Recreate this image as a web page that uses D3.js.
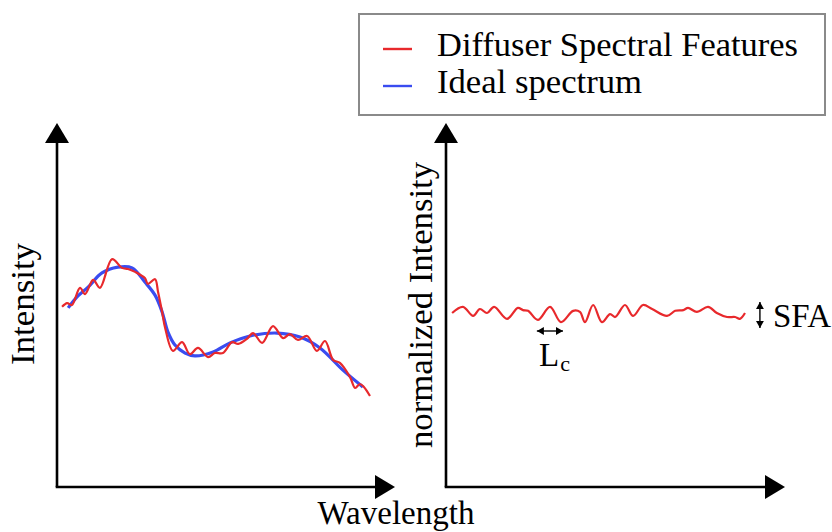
<!DOCTYPE html>
<html>
<head>
<meta charset="utf-8">
<script src="https://cdn.jsdelivr.net/npm/d3@7"></script>
</head>
<body style="margin:0; background:#fff">
<svg width="832" height="532" font-family="Liberation Serif, Times New Roman, serif"></svg>
<script>
// wavelength / intensity in arbitrary units (0..100 along each axis)
const spectrumX = [1.5, 3.0, 4.4, 6.8, 8.3, 10.7, 12.7, 16.3, 19.2, 21.0, 23.1, 26.0, 26.9, 29.0, 29.9, 31.1, 32.0, 34.3, 37.0, 39.3, 41.7, 44.7, 46.7, 49.1, 51.8, 53.6, 56.2, 58.0, 60.7, 63.9, 66.9, 68.9, 71.3, 74.0, 76.9, 79.3, 81.7, 83.7, 86.7, 88.2, 89.6, 90.8, 92.6];
const spectrumY = [49.5, 50.5, 50.0, 54.7, 53.0, 56.9, 54.7, 62.6, 60.2, 59.9, 59.1, 57.4, 55.8, 57.1, 53.6, 48.1, 43.7, 37.4, 39.8, 36.5, 38.2, 35.7, 36.8, 36.8, 39.8, 39.3, 40.7, 42.3, 39.6, 44.2, 40.9, 42.0, 40.4, 41.5, 37.4, 40.1, 34.9, 34.1, 30.2, 27.2, 28.3, 27.5, 25.0];

const idealX = [3.3, 6.2, 9.2, 13.3, 18.0, 22.2, 26.0, 29.0, 31.1, 32.8, 34.9, 37.9, 40.8, 46.2, 51.2, 57.1, 65.1, 71.9, 77.8, 84.6, 90.5];
const idealY = [49.2, 52.5, 54.9, 58.8, 60.4, 60.2, 56.3, 52.7, 48.1, 42.6, 39.0, 36.8, 36.0, 37.1, 39.6, 41.5, 42.3, 41.2, 38.2, 32.1, 27.5];

const normX = [1.8, 5.0, 8.0, 10.0, 12.1, 14.2, 18.0, 21.2, 22.7, 24.2, 27.1, 30.7, 33.9, 37.5, 39.5, 41.0, 43.4, 46.0, 48.4, 49.9, 52.8, 55.2, 58.1, 60.8, 65.2, 67.6, 70.0, 71.4, 74.0, 77.3, 79.9, 82.9, 85.3, 86.7, 88.2];
const normY = [47.8, 49.5, 47.0, 48.9, 47.8, 49.5, 46.2, 49.2, 48.6, 48.4, 45.9, 49.5, 45.3, 48.4, 48.1, 45.3, 50.0, 45.3, 47.5, 46.7, 50.0, 47.0, 50.0, 48.9, 47.0, 48.4, 48.6, 49.2, 48.1, 49.5, 47.8, 46.7, 46.7, 46.2, 47.8];

const legendLabels = ['Diffuser Spectral Features', 'Ideal spectrum'];
const colors = ['#e8292c', '#3a4cf0'];

const lcSpan = [26.8, 34.5];   // correlation length marker (right panel x units)
const sfaSpan = [43.7, 50.8];  // amplitude marker (y units)
const sfaX = 92.6;

const FONT = 'Liberation Serif';
const svg = d3.select('svg');

const y = d3.scaleLinear().domain([0, 100]).range([487, 123]);
const xLeft = d3.scaleLinear().domain([0, 100]).range([57, 395]);
const xRight = d3.scaleLinear().domain([0, 100]).range([446, 785]);

function label(sel) {
    return sel.append('text').attr('font-family', FONT).attr('fill', '#000').attr('font-size', '33px');
}

const defs = svg.append('defs');
defs.append('marker')
    .attr('id', 'bigArrow')
    .attr('viewBox', '0 0 20 24')
    .attr('refX', 0).attr('refY', 12)
    .attr('markerWidth', 20).attr('markerHeight', 24)
    .attr('markerUnits', 'userSpaceOnUse')
    .attr('orient', 'auto')
    .append('path').attr('d', 'M0,0 L20,12 L0,24 Z').attr('fill', '#000');
defs.append('marker')
    .attr('id', 'smallArrow')
    .attr('viewBox', '0 0 7 8')
    .attr('refX', 7).attr('refY', 4)
    .attr('markerWidth', 7).attr('markerHeight', 8)
    .attr('markerUnits', 'userSpaceOnUse')
    .attr('orient', 'auto-start-reverse')
    .append('path').attr('d', 'M0,0 L7,4 L0,8 Z').attr('fill', '#000');

// axes with arrow heads
function drawAxes(x) {
    const x0 = x(0), y0 = y(0);
    svg.append('line')
        .attr('x1', x0).attr('y1', y0)
        .attr('x2', x0).attr('y2', y(100) + 20)
        .attr('stroke', '#000').attr('stroke-width', 2.6)
        .attr('marker-end', 'url(#bigArrow)');
    svg.append('line')
        .attr('x1', x0 - 1.3).attr('y1', y0)
        .attr('x2', x(100) - 20).attr('y2', y0)
        .attr('stroke', '#000').attr('stroke-width', 2.6)
        .attr('marker-end', 'url(#bigArrow)');
}
drawAxes(xLeft);
drawAxes(xRight);

const lineLeft = d3.line().x(d => xLeft(d[0])).y(d => y(d[1])).curve(d3.curveCatmullRom.alpha(0.5));
const lineRight = d3.line().x(d => xRight(d[0])).y(d => y(d[1])).curve(d3.curveCatmullRom.alpha(0.5));

svg.append('path')
    .datum(idealX.map((v, i) => [v, idealY[i]]))
    .attr('d', lineLeft)
    .attr('fill', 'none')
    .attr('stroke', colors[1])
    .attr('stroke-width', 3.2);

svg.append('path')
    .datum(spectrumX.map((v, i) => [v, spectrumY[i]]))
    .attr('d', lineLeft)
    .attr('fill', 'none')
    .attr('stroke', colors[0])
    .attr('stroke-width', 2.2);

svg.append('path')
    .datum(normX.map((v, i) => [v, normY[i]]))
    .attr('d', lineRight)
    .attr('fill', 'none')
    .attr('stroke', colors[0])
    .attr('stroke-width', 2.2);

// axis titles
label(svg)
    .attr('x', 396).attr('y', 524)
    .attr('text-anchor', 'middle')
    .attr('textLength', 157).attr('lengthAdjust', 'spacingAndGlyphs')
    .text('Wavelength');

label(svg)
    .attr('transform', 'translate(34,304) rotate(-90)')
    .attr('text-anchor', 'middle')
    .attr('textLength', 122).attr('lengthAdjust', 'spacingAndGlyphs')
    .text('Intensity');

label(svg)
    .attr('transform', 'translate(432,305) rotate(-90)')
    .attr('text-anchor', 'middle')
    .attr('textLength', 286).attr('lengthAdjust', 'spacingAndGlyphs')
    .text('normalized Intensity');

// Lc annotation
svg.append('line')
    .attr('x1', xRight(lcSpan[0])).attr('x2', xRight(lcSpan[1]))
    .attr('y1', 331).attr('y2', 331)
    .attr('stroke', '#000').attr('stroke-width', 1.4)
    .attr('marker-start', 'url(#smallArrow)')
    .attr('marker-end', 'url(#smallArrow)');
const lc = label(svg).attr('x', 539).attr('y', 366);
lc.append('tspan').text('L');
lc.append('tspan').attr('font-size', '22px').attr('dy', 5).attr('dx', 1).text('c');

// SFA annotation
svg.append('line')
    .attr('x1', xRight(sfaX)).attr('x2', xRight(sfaX))
    .attr('y1', y(sfaSpan[1])).attr('y2', y(sfaSpan[0]))
    .attr('stroke', '#000').attr('stroke-width', 1.4)
    .attr('marker-start', 'url(#smallArrow)')
    .attr('marker-end', 'url(#smallArrow)');
label(svg).attr('x', 773).attr('y', 327).text('SFA');

// legend
const legendWidths = [361, 205];
const legend = svg.append('g');
legend.append('rect')
    .attr('x', 359).attr('y', 14)
    .attr('width', 466).attr('height', 101)
    .attr('fill', '#fff')
    .attr('stroke', '#8a8a8a').attr('stroke-width', 2);
legendLabels.forEach((text, i) => {
    const ly = 49 + i * 37;
    legend.append('line')
        .attr('x1', 383).attr('x2', 412)
        .attr('y1', ly).attr('y2', ly)
        .attr('stroke', colors[i]).attr('stroke-width', 2.4);
    label(legend)
        .attr('x', 437).attr('y', ly + 7)
        .attr('textLength', legendWidths[i]).attr('lengthAdjust', 'spacingAndGlyphs')
        .text(text);
});
</script>
</body>
</html>
